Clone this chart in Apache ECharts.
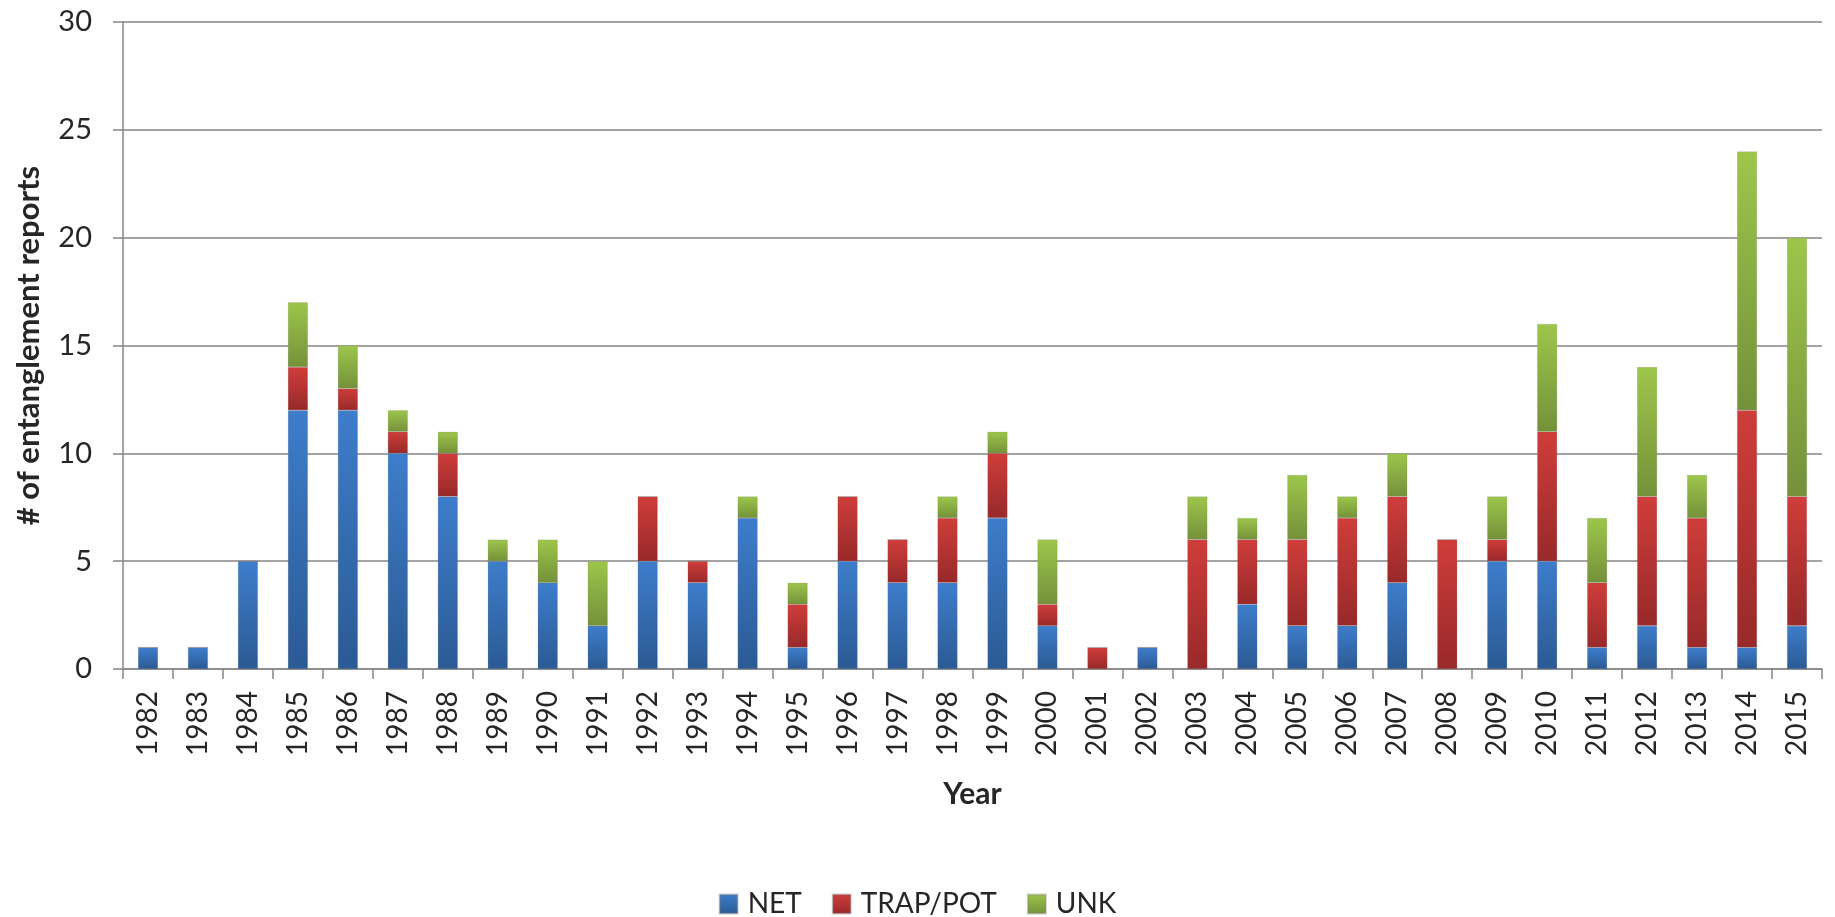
<!DOCTYPE html>
<html>
<head>
<meta charset="utf-8">
<script src="https://cdn.jsdelivr.net/npm/echarts@6/dist/echarts.min.js"></script>
<style>
  html, body { margin: 0; padding: 0; background: #fff; }
  #chart { width: 1835px; height: 917px; }
</style>
</head>
<body>
<div id="chart"></div>
<script>
const years = [
  '1982', '1983', '1984', '1985', '1986', '1987', '1988', '1989', '1990', '1991',
  '1992', '1993', '1994', '1995', '1996', '1997', '1998', '1999', '2000', '2001',
  '2002', '2003', '2004', '2005', '2006', '2007', '2008', '2009', '2010', '2011',
  '2012', '2013', '2014', '2015'
]
const net = [1, 1, 5, 12, 12, 10, 8, 5, 4, 2, 5, 4, 7, 1, 5, 4, 4, 7, 2, 0, 1, 0, 3, 2, 2, 4, 0, 5, 5, 1, 2, 1, 1, 2]
const trapPot = [0, 0, 0, 2, 1, 1, 2, 0, 0, 0, 3, 1, 0, 2, 3, 2, 3, 3, 1, 1, 0, 6, 3, 4, 5, 4, 6, 1, 6, 3, 6, 6, 11, 6]
const unk = [0, 0, 0, 3, 2, 1, 1, 1, 2, 3, 0, 0, 1, 1, 0, 0, 1, 1, 3, 0, 0, 2, 1, 3, 1, 2, 0, 2, 5, 3, 6, 2, 12, 12]

const font = 'Lato, "Open Sans", sans-serif'
const textColor = '#262626'
const axisColor = '#868686'
const grad = (top, bottom) => new echarts.graphic.LinearGradient(0, 0, 0, 1, [
  { offset: 0, color: top },
  { offset: 1, color: bottom }
])

const chart = echarts.init(document.getElementById('chart'))
const makeSeries = (name, data, top, bottom) => ({
  type: 'bar',
  name: name,
  stack: 'total',
  data: data,
  barWidth: '40%',
  itemStyle: {
    color: grad(top, bottom),
    borderColor: 'rgba(120,120,120,0.35)',
    borderWidth: 0.5
  }
})

const option = {
  animation: false,
  grid: {
    top: 22,
    left: 123,
    right: 13,
    bottom: 248
  },
  legend: {
    top: 885,
    left: 'center',
    itemWidth: 18,
    itemHeight: 19,
    itemGap: 30,
    icon: 'rect',
    textStyle: { fontFamily: font, fontSize: 28, color: textColor, padding: [0, 0, 0, 5] },
    data: ['NET', 'TRAP/POT', 'UNK']
  },
  xAxis: {
    type: 'category',
    data: years,
    name: 'Year',
    nameLocation: 'middle',
    nameGap: 110,
    nameTextStyle: { fontFamily: font, fontSize: 30, fontWeight: 'bold', color: textColor },
    axisLine: { lineStyle: { color: axisColor, width: 1.5 } },
    axisTick: { show: true, alignWithLabel: false, length: 10, lineStyle: { color: axisColor, width: 1.5 } },
    axisLabel: { rotate: 90, fontFamily: font, fontSize: 28, color: textColor, margin: 22 }
  },
  yAxis: {
    type: 'value',
    min: 0,
    max: 30,
    interval: 5,
    name: '# of entanglement reports',
    nameLocation: 'middle',
    nameRotate: 90,
    nameGap: 79,
    nameTextStyle: { fontFamily: font, fontSize: 31, fontWeight: 'bold', color: textColor },
    axisLine: { show: true, lineStyle: { color: axisColor, width: 1.5 } },
    axisTick: { show: true, length: 10, lineStyle: { color: axisColor, width: 1.5 } },
    splitLine: { lineStyle: { color: axisColor, width: 1.5 } },
    axisLabel: { fontFamily: font, fontSize: 29, color: textColor, margin: 31 }
  },
  series: [
    makeSeries('NET', net, '#3e7dcb', '#2b5a94'),
    makeSeries('TRAP/POT', trapPot, '#cf3d3a', '#98292a'),
    makeSeries('UNK', unk, '#9dc64b', '#74913a')
  ]
}
chart.setOption(option)
</script>
</body>
</html>
